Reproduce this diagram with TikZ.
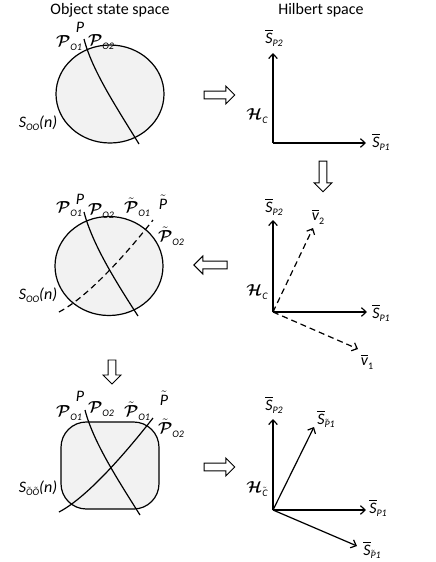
\documentclass[tikz,border=0pt]{standalone}
\usepackage{amsmath,amssymb}
\usepackage{fontspec}
\setmainfont{Carlito}
\usetikzlibrary{arrows.meta,shapes.arrows}
\definecolor{regionGray}{HTML}{F2F2F2}

\newcommand{\scrP}{$\boldsymbol{\mathcal{P}}$}
\newcommand{\tscrP}{$\tilde{\boldsymbol{\mathcal{P}}}$}
\newcommand{\scrH}{$\boldsymbol{\mathcal{H}}$}
\newcommand{\barS}{$\overline{\text{\itshape S}}$}
\newcommand{\barv}{$\overline{\text{\itshape v}}$}
\newcommand{\tlt}[1]{$\tilde{\text{#1}}$}
\newcommand{\lsub}[1]{\raisebox{-0.45ex}{\fontsize{7.5}{8}\selectfont\itshape #1}}

\tikzset{
  title/.style={inner sep=0pt,font=\fontsize{12}{14}\selectfont},
  lbl/.style={inner sep=0pt,font=\fontsize{12}{14}\selectfont\itshape},
  region/.style={draw,line width=0.9pt,fill=regionGray},
  orbit/.style={line width=0.9pt},
  axis/.style={line width=0.9pt,-{Straight Barb[length=3.5pt,width=6.5pt]}},
  blockarrow/.style={single arrow,draw,line width=0.7pt,inner sep=2.6pt,
                     single arrow head extend=3.8pt,minimum height=#1},
}

\begin{document}
\begin{tikzpicture}[x=0.75pt,y=-0.75pt]
  \useasboundingbox (0,0) rectangle (436,562);

  % column titles
  \node[title] (objtitle) at (110,10) {Object state space};
  \node[title] (hiltitle) at (321,10) {Hilbert space};

  % ---- row 1: object state space
  \draw[region] (110,94) ellipse [x radius=54, y radius=49];
  \draw[orbit] (84,39) .. controls (92,70) and (115,105) .. (139,144);
  \node[lbl] (p1) at (80,27) {P};
  \node[lbl] (po1a) at (69,43) {\scrP\lsub{O1}};
  \node[lbl] (po2a) at (101,42) {\scrP\lsub{O2}};
  \node[lbl] (sooa) at (38,123) {S\lsub{OO}(n)};

  % ---- row 1: Hilbert space
  \coordinate (o1) at (273,143);
  \coordinate (y1) at (273,53);
  \coordinate (x1) at (366,143);
  \draw[axis] (o1) -- (y1);
  \draw[axis] (o1) -- (x1);
  \node[lbl] (sp2a) at (274,38) {\barS\lsub{P2}};
  \node[lbl] (sp1a) at (381,142) {\barS\lsub{P1}};
  \node[lbl] (hca) at (257,116) {\scrH\lsub{C}};

  % ---- row 2: object state space
  \draw[region] (109,266) ellipse [x radius=54, y radius=49.5];
  \draw[orbit] (84,212) .. controls (92,243) and (114,279) .. (138,316);
  \draw[orbit,dash pattern=on 4.5pt off 3pt] (59,312) .. controls (88,297) and (128,252) .. (153,220);
  \node[lbl] (p2) at (80,199) {P};
  \node[lbl] (po1b) at (69,209) {\scrP\lsub{O1}};
  \node[lbl] (po2b) at (101,211) {\scrP\lsub{O2}};
  \node[lbl] (tpo1b) at (137,207) {\tscrP\lsub{O1}};
  \node[lbl] (tp2) at (163,202) {\tlt{P}};
  \node[lbl] (tpo2b) at (171,236) {\tscrP\lsub{O2}};
  \node[lbl] (soob) at (38,295) {S\lsub{OO}(n)};

  % ---- row 2: Hilbert space
  \coordinate (o2) at (273,312);
  \coordinate (y2) at (273,220);
  \coordinate (x2) at (367,312);
  \coordinate (v2) at (313,228);
  \coordinate (v1) at (358,349);
  \draw[axis] (o2) -- (y2);
  \draw[axis] (o2) -- (x2);
  \draw[axis,dash pattern=on 4.5pt off 3pt] (o2) -- (v2);
  \draw[axis,dash pattern=on 4.5pt off 3pt] (o2) -- (v1);
  \node[lbl] (sp2b) at (274,207) {\barS\lsub{P2}};
  \node[lbl] (sp1b) at (381,313) {\barS\lsub{P1}};
  \node[lbl] (hcb) at (257,292) {\scrH\lsub{C}};
  \node[lbl] (v2l) at (318,217) {\barv\lsub{\upshape 2}};
  \node[lbl] (v1l) at (367,362) {\barv\lsub{\upshape 1}};

  % ---- row 3: object state space
  \draw[region,rounded corners=19pt] (61,422) rectangle (159,509);
  \draw[orbit] (85,410) .. controls (93,441) and (116,477) .. (140,515);
  \draw[orbit] (59,512) .. controls (88,497) and (128,450) .. (153,418);
  \node[lbl] (p3) at (80,396) {P};
  \node[lbl] (po1c) at (69,413) {\scrP\lsub{O1}};
  \node[lbl] (po2c) at (101,409) {\scrP\lsub{O2}};
  \node[lbl] (tpo1c) at (137,411) {\tscrP\lsub{O1}};
  \node[lbl] (tp3) at (164,398) {\tlt{P}};
  \node[lbl] (tpo2c) at (171,428) {\tscrP\lsub{O2}};
  \node[lbl] (sooc) at (38,488) {S\lsub{\tlt{O}\tlt{O}}(n)};

  % ---- row 3: Hilbert space
  \coordinate (o3) at (273,510);
  \coordinate (y3) at (273,419);
  \coordinate (x3) at (366,510);
  \coordinate (tp1u) at (314,427);
  \coordinate (tp1d) at (357,546);
  \draw[axis] (o3) -- (y3);
  \draw[axis] (o3) -- (x3);
  \draw[axis] (o3) -- (tp1u);
  \draw[axis] (o3) -- (tp1d);
  \node[lbl] (sp2c) at (274,405) {\barS\lsub{P2}};
  \node[lbl] (sp1c) at (378,508) {\barS\lsub{P1}};
  \node[lbl] (stp1u) at (326,419) {\barS\lsub{\tlt{P}1}};
  \node[lbl] (stp1d) at (372,550) {\barS\lsub{\tlt{P}1}};
  \node[lbl] (hcc) at (257,489) {\scrH\lsub{\tlt{C}}};

  % block arrows between the panels
  \node[blockarrow=23pt] (toHil1) at (217.5,95) {};
  \node[blockarrow=23pt,shape border rotate=270] (down1) at (323,174.5) {};
  \node[blockarrow=25pt,shape border rotate=180] (toObj2) at (212.5,265) {};
  \node[blockarrow=18pt,shape border rotate=270] (down2) at (112,370) {};
  \node[blockarrow=23pt] (toHil3) at (217.5,467) {};
\end{tikzpicture}
\end{document}
